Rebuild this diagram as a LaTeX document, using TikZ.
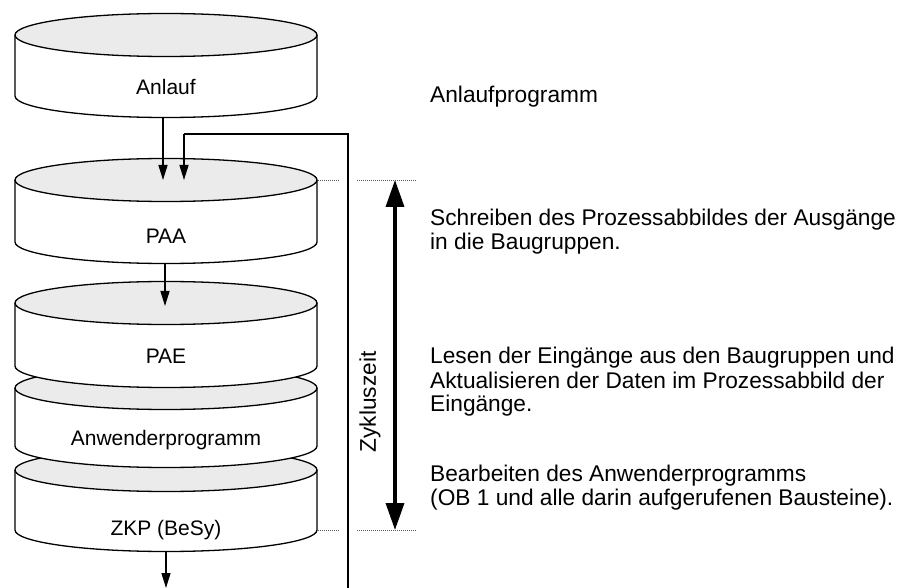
\documentclass[tikz,border=0pt]{standalone}
\usepackage{fontspec}
\setmainfont{Liberation Sans}
\usetikzlibrary{arrows.meta}
\begin{document}
\begin{tikzpicture}[x=1pt,y=-1pt,
  outl/.style={line width=1.3pt},
  conn/.style={line width=1.5pt,-{Triangle[length=15pt,width=9pt]}},
  loopline/.style={line width=1.5pt},
  dots/.style={line width=0.9pt,gray!70!black,dash pattern=on 1pt off 1pt},
  cyltext/.style={font=\fontsize{21}{24}\selectfont,anchor=base,inner sep=0pt},
  desc/.style={font=\fontsize{22.7}{24}\selectfont,anchor=base west,align=left,inner sep=0pt},
  timearrow/.style={line width=3.5pt,{Triangle[length=27pt,width=18pt]}-{Triangle[length=27pt,width=18pt]}}
]
\useasboundingbox (0,0) rectangle (898,588);
\definecolor{topgray}{HTML}{EBEBEB}
% cylinder macro: #1 top centre y, #2 side end y
\newcommand{\cylshape}[2]{%
  \fill[white] (15,#1) -- (15,#2) arc[start angle=180,end angle=360,x radius=151pt,y radius=21.5pt] -- (317,#1) -- cycle;
  \draw[outl] (15,#1) -- (15,#2) arc[start angle=180,end angle=360,x radius=151pt,y radius=21.5pt] -- (317,#1);
  \filldraw[outl,fill=topgray] (166,#1) ellipse[x radius=151pt,y radius=21.5pt];
}
% cylinders, lowest first
\cylshape{470}{530}
\cylshape{388}{446}
\cylshape{303}{366}
\cylshape{180}{242}
\cylshape{35}{96}

\node[cyltext] (anlauf) at (166,95) {Anlauf};
\node[cyltext] (paa) at (166,244) {PAA};
\node[cyltext] (pae) at (166,363) {PAE};
\node[cyltext] (anw) at (166,445) {Anwenderprogramm};
\node[cyltext] (zkp) at (166,535) {ZKP (BeSy)};

% connectors
\coordinate (anlaufB) at (163,117);
\coordinate (paaT1) at (163,180);
\coordinate (paaT2) at (184,180);
\coordinate (paaB) at (165,263);
\coordinate (paeT) at (165,306);
\coordinate (zkpB) at (166,552);
\coordinate (outend) at (166,588);
\coordinate (loopA) at (348,588);
\coordinate (loopB) at (348,134);
\coordinate (loopC) at (184,134);
\draw[conn] (anlaufB) -- (paaT1);
\draw[conn] (paaB) -- (paeT);
\draw[conn] (zkpB) -- (outend);
\draw[loopline] (loopA) -- (loopB) -- (loopC);
\draw[conn] (loopC) -- (paaT2);

% cycle time
\coordinate (tA) at (395,180);
\coordinate (tB) at (395,530);
\draw[dots] (318,180) -- (340,180);
\draw[dots] (357,180) -- (417,180);
\draw[dots] (318,530) -- (340,530);
\draw[dots] (357,530) -- (417,530);
\draw[timearrow] (tA) -- (tB);
\node[font=\fontsize{22.7}{24}\selectfont,rotate=90,inner sep=0pt] (zyk) at (370,402) {Zykluszeit};

% descriptions (anchor = baseline of last line)
\node[desc] (d1) at (430,103) {Anlaufprogramm};
\node[desc] (d2) at (430,250) {Schreiben des Prozessabbildes der Ausgänge\\in die Baugruppen.};
\node[desc] (d3) at (430,412) {Lesen der Eingänge aus den Baugruppen und\\Aktualisieren der Daten im Prozessabbild der\\Eingänge.};
\node[desc] (d4) at (430,505) {Bearbeiten des Anwenderprogramms\\(OB 1 und alle darin aufgerufenen Bausteine).};
\end{tikzpicture}
\end{document}
